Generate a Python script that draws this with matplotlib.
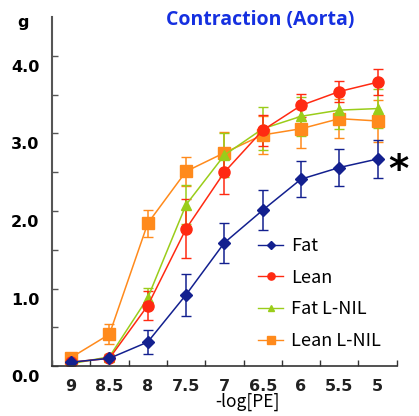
import numpy as np
import matplotlib
matplotlib.use("Agg")
import matplotlib.pyplot as plt
from matplotlib.lines import Line2D
from matplotlib.transforms import ScaledTranslation

# -log[PE] concentrations (x categories)
conc = ["9", "8.5", "8", "7.5", "7", "6.5", "6", "5.5", "5"]

fat = [0.05, 0.10, 0.31, 0.92, 1.59, 2.01, 2.41, 2.56, 2.67]
fat_err = [0.02, 0.02, 0.15, 0.27, 0.26, 0.26, 0.23, 0.24, 0.24]

lean = [0.05, 0.10, 0.78, 1.77, 2.50, 3.04, 3.36, 3.54, 3.66]
lean_err = [0.02, 0.02, 0.19, 0.38, 0.28, 0.20, 0.15, 0.14, 0.17]

fat_nil = [0.03, 0.12, 0.88, 2.08, 2.72, 3.06, 3.22, 3.30, 3.32]
fat_nil_err = [0.02, 0.03, 0.13, 0.25, 0.28, 0.28, 0.25, 0.24, 0.25]

lean_nil = [0.11, 0.41, 1.84, 2.51, 2.75, 2.98, 3.06, 3.19, 3.16]
lean_nil_err = [0.03, 0.13, 0.17, 0.19, 0.27, 0.25, 0.25, 0.25, 0.27]

series = [
    ("Fat", fat, fat_err, "#13208f", "D", 6),
    ("Lean", lean, lean_err, "#ff2a12", "o", 8),
    ("Fat L-NIL", fat_nil, fat_nil_err, "#9acd1a", "^", 7),
    ("Lean L-NIL", lean_nil, lean_nil_err, "#ff8a1c", "s", 8),
]

fig = plt.figure(figsize=(4.19, 4.16), dpi=100)
ax = fig.add_axes([0.124, 0.12, 0.823, 0.839])

x = np.arange(len(conc))
# draw back to front like the original (orange under green under red under blue)
for name, vals, err, col, mk, ms in series[::-1]:
    ax.errorbar(x, vals, yerr=err, color=col, marker=mk, markersize=ms,
                lw=1.1, elinewidth=1.1, capsize=3.5, capthick=1.0)

ax.set_xlim(-0.5, len(conc) - 0.5)
ax.set_ylim(0, 4.5)

# y axis
ax.set_yticks([0, 1, 2, 3, 4])
ax.set_yticks([0.5, 1.5, 2.5, 3.5], minor=True)
ax.set_yticklabels(["0.0", "1.0", "2.0", "3.0", "4.0"], fontsize=11.5, fontweight="bold")
ax.tick_params(axis="y", which="both", direction="in", length=4, width=1, color="#555555", pad=9)
offset = ScaledTranslation(0, -10 / 100, fig.dpi_scale_trans)
for lab in ax.get_yticklabels():
    lab.set_transform(lab.get_transform() + offset)

# x axis: ticks at category boundaries, labels under points
ax.set_xticks(np.arange(len(conc) + 1) - 0.5)
ax.set_xticklabels([])
ax.tick_params(axis="x", which="major", direction="in", length=4, width=1, color="#333333")
ax.set_xticks(x, minor=True)
ax.set_xticklabels(conc, minor=True, fontsize=11.5, fontweight="bold", color="#222222")
ax.tick_params(axis="x", which="minor", length=0, pad=9)

for s in ["top", "right"]:
    ax.spines[s].set_visible(False)
ax.spines["left"].set_color("#555555")
ax.spines["left"].set_linewidth(1.5)
ax.spines["bottom"].set_color("#333333")
ax.spines["bottom"].set_linewidth(1.2)

fig.text(0.055, 0.945, "g", fontsize=11.5, fontweight="bold", ha="center", va="center")
fig.text(0.62, 0.952, "Contraction (Aorta)", fontsize=14, fontweight="bold",
         color="#1530e0", ha="center", va="center", family="Open Sans")
fig.text(0.59, 0.034, "-log[PE]", fontsize=12.5, ha="center", va="center",
         family=["Noto Sans CJK JP", "DejaVu Sans"])
fig.text(0.95, 0.59, "*", fontsize=28, fontweight="bold", ha="center", va="center")

# legend: plain line + small marker, no error bars
handles = [Line2D([], [], color=col, marker=mk, markersize=ms * 0.65, lw=1.0)
           for name, vals, err, col, mk, ms in series]
labels = [s[0] for s in series]
leg = ax.legend(handles, labels, loc="lower right", bbox_to_anchor=(1.0, 0.0),
                frameon=False, handlelength=1.4, handletextpad=0.4, labelspacing=0.75,
                prop={"family": ["Noto Sans CJK JP", "DejaVu Sans"], "size": 13})

fig.savefig("out.png", dpi=100)
